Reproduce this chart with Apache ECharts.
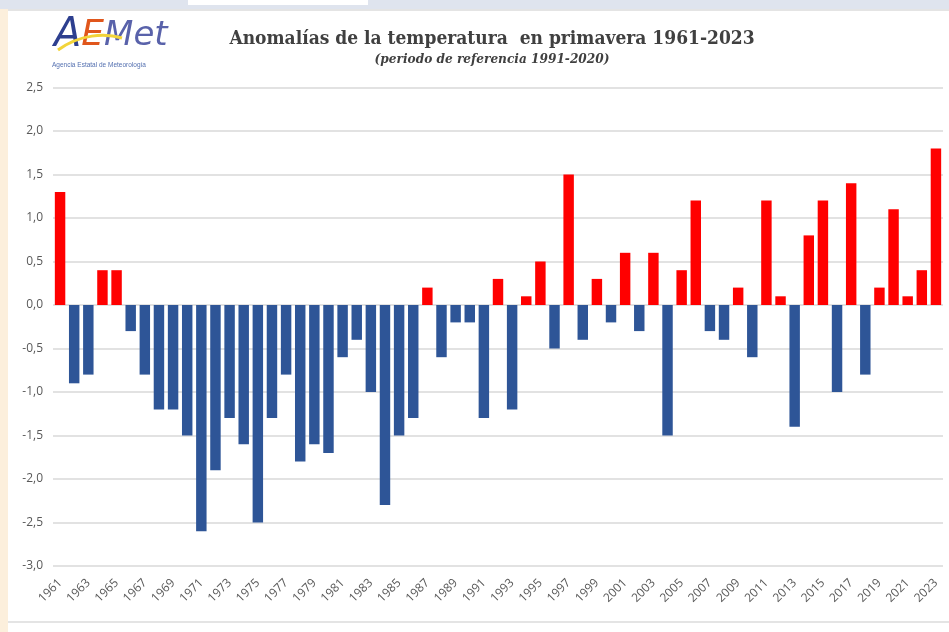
<!DOCTYPE html>
<html>
<head>
<meta charset="utf-8">
<script src="https://cdn.jsdelivr.net/npm/echarts@6/dist/echarts.min.js"></script>
<style>
  html, body { margin: 0; padding: 0; background: #fff; }
  .topbar { position: absolute; left: 0; top: 0; width: 949px; height: 9px; background: #dfe4ee; }
  .topbar .tab { position: absolute; left: 188px; top: 0; width: 180px; height: 5px; background: #fff; }
  .side { position: absolute; left: 0; top: 9px; width: 8px; height: 623px; background: #fcefdc; }
  .frame { position: absolute; left: 8px; top: 9px; width: 941px; height: 610px;
           border-top: 2px solid #e4e4e4; border-bottom: 2px solid #e4e4e4; }
  #chart { position: absolute; left: 0; top: 0; width: 949px; height: 632px; }
</style>
</head>
<body>
<div class="topbar"><div class="tab"></div></div>
<div class="side"></div>
<div class="frame"></div>
<div id="chart"></div>
<script>
// anomalías de temperatura en primavera (ºC), referencia 1991-2020
const years = [];
for (let y = 1961; y <= 2023; y++) years.push(String(y));

const anomalies = [
  1.3, -0.9, -0.8, 0.4, 0.4, -0.3, -0.8, -1.2, -1.2, -1.5,   // 1961-1970
  -2.6, -1.9, -1.3, -1.6, -2.5, -1.3, -0.8, -1.8, -1.6, -1.7, // 1971-1980
  -0.6, -0.4, -1.0, -2.3, -1.5, -1.3, 0.2, -0.6, -0.2, -0.2,  // 1981-1990
  -1.3, 0.3, -1.2, 0.1, 0.5, -0.5, 1.5, -0.4, 0.3, -0.2,      // 1991-2000
  0.6, -0.3, 0.6, -1.5, 0.4, 1.2, -0.3, -0.4, 0.2, -0.6,      // 2001-2010
  1.2, 0.1, -1.4, 0.8, 1.2, -1.0, 1.4, -0.8, 0.2, 1.1,        // 2011-2020
  0.1, 0.4, 1.8                                              // 2021-2023
];

const yTicks = { min: -3, max: 2.5, step: 0.5 };

const chart = echarts.init(document.getElementById('chart'));

chart.setOption({
  backgroundColor: 'transparent',
  animation: false,
  title: {
    text: 'Anomalías de la temperatura  en primavera 1961-2023',
    subtext: '(periodo de referencia 1991-2020)',
    left: 487, top: 25, textAlign: 'center', itemGap: 3,
    textStyle: { fontFamily: 'DejaVu Serif Condensed', fontWeight: 'bold', fontSize: 19, color: '#404040' },
    subtextStyle: { fontFamily: 'DejaVu Serif Condensed', fontStyle: 'italic', fontWeight: 'bold', fontSize: 13.5, color: '#404040' },
  },
  graphic: [
    {
      type: 'text', left: 54, top: 16, z: 2,
      style: {
        text: '{a|A}{e|E}{m|Met}',
        rich: {
          a: { fontFamily: 'DejaVu Sans', fontStyle: 'italic', fontSize: 40, fill: '#2d3f8f' },
          e: { fontFamily: 'DejaVu Sans', fontStyle: 'italic', fontSize: 36, fill: '#e0561c' },
          m: { fontFamily: 'DejaVu Sans', fontStyle: 'italic', fontSize: 34, fill: '#5962aa' },
        },
      },
    },
    {
      type: 'bezierCurve', z: 3,
      shape: { x1: 58, y1: 50, cpx1: 80, cpy1: 34, cpx2: 105, cpy2: 33, x2: 122, y2: 38 },
      style: { stroke: '#f2d43a', lineWidth: 3, fill: null },
    },
    {
      type: 'text', left: 52, top: 62, z: 2,
      style: { text: 'Agencia Estatal de Meteorología', fontFamily: 'Liberation Sans', fontSize: 6.5, fill: '#5470b0' },
    },
  ],
  grid: { left: 53, right: 6, top: 87.5, bottom: 66 },
  xAxis: {
    type: 'category', data: years,
    axisLine: { show: false, onZero: false },
    axisTick: { show: false },
    axisLabel: { interval: 1, rotate: 45, color: '#595959', fontSize: 12, fontFamily: 'Open Sans', margin: 15 },
  },
  yAxis: {
    type: 'value', min: yTicks.min, max: yTicks.max, interval: yTicks.step,
    axisLine: { show: false }, axisTick: { show: false },
    axisLabel: {
      color: '#595959', fontSize: 12, fontFamily: 'Open Sans', margin: 10,
      formatter: v => v.toFixed(1).replace('.', ','),
    },
    splitLine: { lineStyle: { color: '#d9d9d9', width: 1.5 } },
  },
  series: [{
    type: 'bar',
    data: anomalies,
    barCategoryGap: '26%',
    itemStyle: { color: p => (p.value >= 0 ? '#ff0000' : '#2e5597') },
  }],
});
</script>
</body>
</html>
